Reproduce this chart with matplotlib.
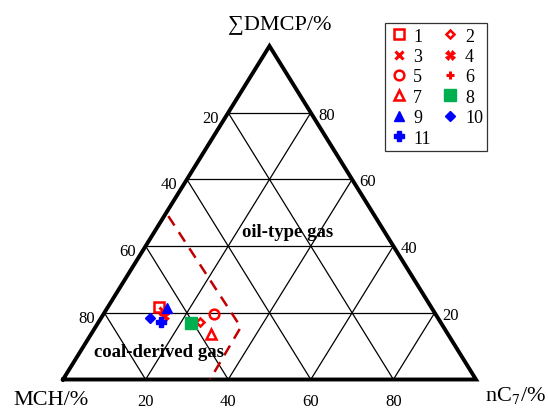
import matplotlib
matplotlib.use("Agg")
import matplotlib.pyplot as plt

plt.rcParams['font.family'] = ['Liberation Serif', 'DejaVu Serif']
plt.rcParams['mathtext.fontset'] = 'stix'

# samples: MCH, nC7, DMCP (%)
labels = ['1', '2', '3', '4', '5', '6', '7', '8', '9', '10', '11']
mch = [65.8, 58.2, 65.5, 66.0, 53.7, 65.4, 57.4, 60.6, 64.0, 69.7, 67.7]
nc7 = [12.3, 24.5, 14.0, 15.0, 26.8, 14.8, 28.9, 22.6, 14.5, 11.9, 15.2]
dmcp = [21.8, 17.3, 20.5, 19.0, 19.5, 19.8, 13.6, 16.8, 21.5, 18.4, 17.1]

# dashed boundary between coal-derived and oil-type gas
bound_mch = [50.0, 49.1, 64.4]
bound_nc7 = [1.0, 35.2, 35.6]
bound_dmcp = [49.0, 15.7, 0.0]

grid_vals = [20, 40, 60, 80]

styles = [
    dict(marker='s', mfc='none', mec='#FF0000', ms=7, mew=1.8),
    dict(marker='D', mfc='none', mec='#FF0000', ms=4.5, mew=1.8),
    dict(marker='x', color='#FF0000', ms=5.5, mew=2.2),
    dict(marker='X', mfc='#FF0000', mec='#FF0000', ms=6.5, mew=0.5),
    dict(marker='o', mfc='none', mec='#FF0000', ms=7, mew=1.8),
    dict(marker='+', color='#FF0000', ms=6, mew=2.2),
    dict(marker='^', mfc='none', mec='#FF0000', ms=6.5, mew=1.8),
    dict(marker='s', mfc='#00B050', mec='#00B050', ms=8),
    dict(marker='^', mfc='#0000FF', mec='#0000FF', ms=7),
    dict(marker='D', mfc='#0000FF', mec='#0000FF', ms=5.5),
    dict(marker='P', mfc='#0000FF', mec='#0000FF', ms=7.5),
]


def tern(a, b, c):
    # a = MCH (bottom-left), b = nC7 (bottom-right), c = DMCP (top)
    s = a + b + c
    return (b + c / 2.0) / s, c / s


W, H = 548, 410
fig = plt.figure(figsize=(W / 100, H / 100), dpi=100)
ax = fig.add_axes([63 / W, (H - 380.5) / H, 413 / W, 333.5 / H])
ax.set_xlim(0, 1)
ax.set_ylim(0, 1)
ax.axis('off')

# grid lines
for v in grid_vals:
    for p, q in [((v, 100 - v, 0), (v, 0, 100 - v)),
                 ((100 - v, v, 0), (0, v, 100 - v)),
                 ((100 - v, 0, v), (0, 100 - v, v))]:
        x0, y0 = tern(*p)
        x1, y1 = tern(*q)
        ax.plot([x0, x1], [y0, y1], color='black', lw=0.9, zorder=1)

# outer triangle
ax.plot([0, 1, 0.5, 0], [0, 0, 1, 0], color='black', lw=2.8,
        solid_joinstyle='miter', clip_on=False, zorder=2)

# tick labels
for v in grid_vals:
    x, y = tern(v, 0, 100 - v)
    ax.annotate(str(v), (x, y), xytext=(-7, -3.5), textcoords='offset points',
                ha='right', va='center', fontsize=12)
    x, y = tern(0, 100 - v, v)
    ax.annotate(str(v), (x, y), xytext=(5.5, -1.5), textcoords='offset points',
                ha='left', va='center', fontsize=12)
    x, y = tern(100 - v, v, 0)
    ax.annotate(str(v), (x, y), xytext=(0, -15.5), textcoords='offset points',
                ha='center', va='center', fontsize=12, annotation_clip=False)

# corner titles
fig.text(280 / W, 1 - 25 / H, '∑DMCP/%', ha='center', va='center', fontsize=16)
fig.text(51 / W, 1 - 401 / H, 'MCH/%', ha='center', va='center', fontsize=16)
fig.text(516 / W, 1 - 396 / H, 'nC$_7$/%', ha='center', va='center', fontsize=16)

# boundary
bx, by = zip(*[tern(a, b, c) for a, b, c in zip(bound_mch, bound_nc7, bound_dmcp)])
ax.plot(bx, by, color='#C00000', lw=1.8, dashes=(4.5, 3.2), zorder=3)

# region labels
ax.text(*tern(23.3, 32.2, 44.5), 'oil-type gas', ha='center', va='center',
        fontsize=13.5, fontweight='bold')
ax.text(*tern(72.7, 19.1, 8.25), 'coal-derived gas', ha='center', va='center',
        fontsize=13.5, fontweight='bold')

# sample points
handles = []
for i in range(len(labels)):
    x, y = tern(mch[i], nc7[i], dmcp[i])
    h, = ax.plot([x], [y], linestyle='none', zorder=4, **styles[i])
    handles.append(h)

order = [0, 2, 4, 6, 8, 10, 1, 3, 5, 7, 9]
leg = fig.legend([handles[i] for i in order], [labels[i] for i in order],
                 ncol=2, loc='upper left', bbox_to_anchor=(385 / W, 1 - 24 / H),
                 borderaxespad=0, fontsize=13, frameon=True, fancybox=False,
                 handlelength=1.0, handletextpad=0.3, columnspacing=0.6,
                 labelspacing=0.19, borderpad=0.25)
leg.get_frame().set_edgecolor('black')
leg.get_frame().set_linewidth(0.9)

fig.savefig('out.png', dpi=100)
